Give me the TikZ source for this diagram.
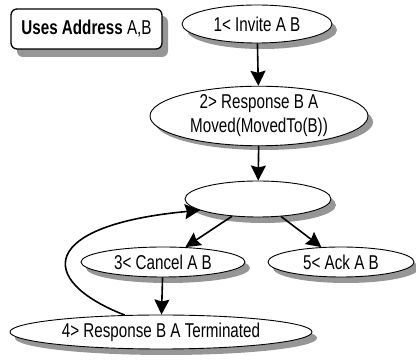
\documentclass[tikz,border=0pt]{standalone}
\usepackage{fontspec}
\setmainfont{Liberation Sans}[FakeStretch=0.76]
\usetikzlibrary{shapes.geometric,arrows.meta}
\definecolor{shadowgrey}{RGB}{150,150,150}
\begin{document}
\begin{tikzpicture}[x=1pt,y=-1pt,
  font=\fontsize{20}{24}\selectfont,
  state/.style={ellipse,draw,line width=0.9pt,fill=white,inner sep=0pt,align=center},
  flow/.style={line width=1.6pt,-{Stealth[length=15pt,width=15pt,inset=2pt]}}]
\useasboundingbox (0,0) rectangle (416,363);

% shadows of the box and of the states
\fill[shadowgrey,rounded corners=6pt] (17,16) rectangle (168,57);
\fill[shadowgrey] (262,30) ellipse [x radius=75, y radius=19];
\fill[shadowgrey] (264,122) ellipse [x radius=109, y radius=28];
\fill[shadowgrey] (263,205) ellipse [x radius=73, y radius=18];
\fill[shadowgrey] (168,268) ellipse [x radius=82, y radius=15];
\fill[shadowgrey] (346,268) ellipse [x radius=73, y radius=15];
\fill[shadowgrey] (166,338) ellipse [x radius=151, y radius=17];

% address box
\node[draw,rounded corners=6pt,line width=1.3pt,fill=white,
      minimum width=151pt,minimum height=40pt,inner sep=0pt] (addr) at (86.5,29)
      {\textbf{Uses Address} A,B};

% states
\node[state,minimum width=150pt,minimum height=38pt] (s1) at (257,24) {1< Invite A B};
\node[state,minimum width=218pt,minimum height=56pt] (s2) at (259,116) {2> Response B A\\Moved(MovedTo(B))};
\node[state,minimum width=146pt,minimum height=36pt] (s3) at (258,199) {};
\node[state,minimum width=164pt,minimum height=30pt] (s4) at (163,262) {3< Cancel A B};
\node[state,minimum width=146pt,minimum height=30pt] (s5) at (341,262) {5< Ack A B};
\node[state,minimum width=302pt,minimum height=34pt] (s6) at (161,332) {4> Response B A Terminated};

% transitions
\draw[flow] (s1) -- (s2);
\draw[flow] (s2) -- (s3);
\draw[flow] (s3) -- (s4);
\draw[flow] (s3) -- (s5);
\draw[flow] (s4) -- (s6);
\draw[flow] (s6.155) .. controls (35,280) and (40,225) .. (s3.191);
\end{tikzpicture}
\end{document}
